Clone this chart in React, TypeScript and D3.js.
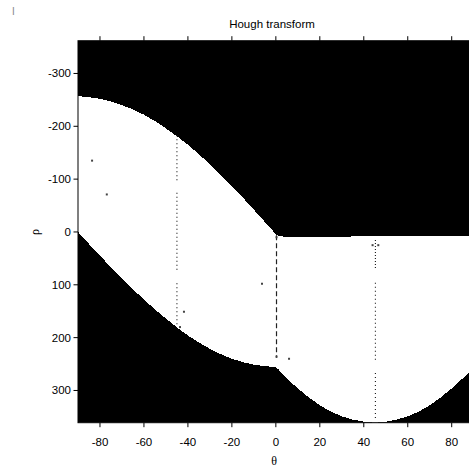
import React from 'react';
import * as d3 from 'd3';

// support of the Hough accumulator (theta in degrees, rho in pixels)
const thetaDeg = [-90, -80, -70, -60, -50, -40, -30, -20, -10, -5, -2, 0, 2, 5, 10, 20, 30, 40, 45, 50, 60, 70, 80, 90];
const rhoTop = [-257, -252, -240, -222, -196, -165, -128, -87, -42, -19, -6, 5, 8, 9, 9, 9, 9, 8, 8, 8, 8, 8, 7, 7];
const rhoBottom = [0, 45, 88, 128, 164, 196, 221, 240, 251, 254, 255, 256, 264, 277, 296, 328, 349, 359, 361, 359, 349, 328, 296, 257];

// columns of dropped cells inside the white region
const gapTheta = [-45, -45, -45, 0.3, 45.3, 45.3, 45.3];
const gapFrom = [-183, -74, 97, 6, 15, 96, 267];
const gapTo = [-97, 72, 178, 238, 72, 242, 357];
const gapDash = ['1,3', '1,3', '1,3', '5,3', '1,2', '1,3', '1,3'];

// isolated cells
const dotTheta = [-83.6, -76.9, -6.3, -41.8, 6, -43.6, 0.3, 0.3, 44, 46.6];
const dotRho = [-135, -71, 98, 151, 240, 180, 10, 236, 25, 25];

const xTicks = [-80, -60, -40, -20, 0, 20, 40, 60, 80];
const yTicks = [-300, -200, -100, 0, 100, 200, 300];

const width = 469;
const height = 471;
const margin = {left: 78, top: 40.7, right: 473.7, bottom: 422.7};

export default function App() {
    const x = d3.scaleLinear().domain([-90, 90]).range([margin.left, margin.right]);
    const y = d3.scaleLinear().domain([-362, 361]).range([margin.top, margin.bottom]);

    const area = d3.area<number>()
        .x((d) => x(thetaDeg[d]))
        .y0((d) => y(rhoTop[d]))
        .y1((d) => y(rhoBottom[d]))
        .curve(d3.curveMonotoneX);

    const idx = thetaDeg.map((_, i) => i);
    const font = '"Liberation Sans", Arial, sans-serif';

    return (
        <svg width={width} height={height} style={{position: 'absolute', left: 0, top: 0}}>
            <defs>
                <clipPath id="plot">
                    <rect x={margin.left} y={margin.top}
                        width={margin.right - margin.left} height={margin.bottom - margin.top} />
                </clipPath>
            </defs>

            <text x={12} y={15} fontSize={10} fill="#888" fontFamily={font}>I</text>

            <g clipPath="url(#plot)">
                <rect x={margin.left} y={margin.top}
                    width={margin.right - margin.left} height={margin.bottom - margin.top} fill="black" />
                <path d={area(idx) || ''} fill="white" shapeRendering="crispEdges" />

                {gapTheta.map((t, i) => (
                    <line key={'g' + i} x1={x(t)} x2={x(t)} y1={y(gapFrom[i])} y2={y(gapTo[i])}
                        stroke="#222" strokeWidth={1.2} strokeDasharray={gapDash[i]} />
                ))}
                {dotTheta.map((t, i) => (
                    <rect key={'d' + i} x={x(t) - 1} y={y(dotRho[i]) - 1} width={2} height={2} fill="#444" />
                ))}
            </g>

            {/* axes box */}
            <rect x={margin.left} y={margin.top} width={margin.right - margin.left}
                height={margin.bottom - margin.top} fill="none" stroke="black" strokeWidth={1} />

            {xTicks.map((t) => (
                <g key={'x' + t}>
                    <line x1={x(t)} x2={x(t)} y1={margin.bottom} y2={margin.bottom + 4.5} stroke="black" />
                    <line x1={x(t)} x2={x(t)} y1={margin.top} y2={margin.top - 4.5} stroke="black" />
                    <text x={x(t)} y={446} textAnchor="middle" fontSize={11.5} fontFamily={font}>{t}</text>
                </g>
            ))}
            {yTicks.map((t) => (
                <g key={'y' + t}>
                    <line x1={margin.left} x2={margin.left - 4.5} y1={y(t)} y2={y(t)} stroke="black" />
                    <text x={71} y={y(t) + 4} textAnchor="end" fontSize={11.5} fontFamily={font}>{t}</text>
                </g>
            ))}

            <text x={272} y={28} textAnchor="middle" fontSize={11.5} fontFamily={font}>Hough transform</text>
            <text x={274} y={465} textAnchor="middle" fontSize={12}
                fontFamily='"Liberation Serif", "DejaVu Serif", serif'>θ</text>
            <text transform="translate(39, 232) rotate(-90)" textAnchor="middle" fontSize={12}
                fontFamily='"Liberation Serif", "DejaVu Serif", serif'>ρ</text>
        </svg>
    );
}
